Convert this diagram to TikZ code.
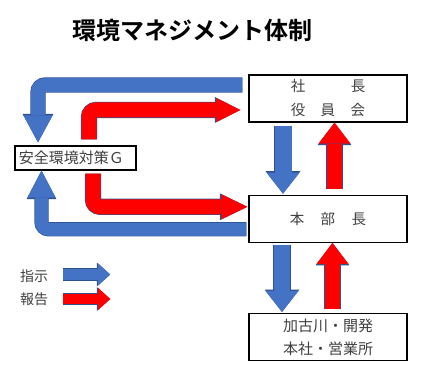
\documentclass[tikz,border=0pt]{standalone}
\usepackage{fontspec}
\setmainfont{Noto Sans CJK JP}[BoldFont={Noto Sans CJK JP Bold}]
\usepackage{xcolor}
\usepackage{tikz}
\usetikzlibrary{arrows.meta,positioning}

\definecolor{instrblue}{HTML}{4472C4}
\definecolor{edgeblue}{HTML}{2F528F}
\definecolor{reportred}{HTML}{FF0000}

% block arrow: colour, shaft, head width, head length, path
\newcommand{\blockarrow}[5]{%
  \pgfmathsetmacro{\ow}{#2+1.2}%
  \pgfmathsetmacro{\ohw}{#3+1.8}%
  \pgfmathsetmacro{\ohl}{#4+1.4}%
  \draw[edgeblue, line width=\ow pt, rounded corners=7pt,
    -{Triangle[width=\ohw pt, length=\ohl pt, line width=0pt]}] #5;
  \draw[#1, line width=#2pt, rounded corners=7pt,
    -{Triangle[width=#3pt, length=#4pt, line width=0pt]}] #5;
}

\tikzset{
  box/.style={draw=black, line width=1.3pt, fill=white, text=black!75,
    minimum width=158pt, minimum height=47pt, inner sep=0pt, align=center,
    font=\fontsize{14.5}{24}\selectfont},
  legend/.style={inner sep=0pt, text=black!75, font=\fontsize{14}{16}\selectfont},
  heading/.style={inner sep=0pt, font=\fontsize{24}{28}\selectfont\bfseries}
}

\begin{document}
\begin{tikzpicture}[x=1pt, y=1pt]
\fill[white] (0,0) rectangle (426,371);
\useasboundingbox (0,0) rectangle (426,371);
\node[heading] (title) at (192.5,341) {環境マネジメント体制};
\node[box] (board) at (328,272.5) {社\hspace{45.5pt}長\\役\hspace{15.5pt}員\hspace{15.5pt}会};
\node[box, minimum width=121pt, minimum height=24pt, text width=113pt, align=left,
  font=\fontsize{15}{18}\selectfont] (safety) at (75.5,213) {安全環境対策Ｇ};
\node[box, below=72pt of board] (hq) {本\hspace{16.5pt}部\hspace{16.5pt}長};
\node[box, below=70pt of hq, font=\fontsize{15}{23}\selectfont] (site) {加古川・開発\\本社・営業所};
% instructions
\blockarrow{instrblue}{14}{29}{27}{([xshift=-6pt,yshift=13.5pt]board.west) -| ([xshift=-37.5pt,yshift=3pt]safety.north)}
\blockarrow{instrblue}{13}{28}{27}{([xshift=-2pt,yshift=-10.5pt]hq.west) -| ([xshift=-34pt]safety.south)}
\blockarrow{instrblue}{17}{33}{21}{([xshift=-45pt,yshift=-3pt]board.south) -- ([xshift=-45pt,yshift=1pt]hq.north)}
\blockarrow{instrblue}{16}{33}{21}{([xshift=-46pt,yshift=-2pt]hq.south) -- ([xshift=-46pt,yshift=1pt]site.north)}
% reports
\blockarrow{reportred}{15}{24}{24}{([xshift=13.5pt,yshift=6pt]safety.north) |- ([xshift=-8pt,yshift=-11.5pt]board.west)}
\blockarrow{reportred}{15}{25}{26}{([xshift=17.5pt,yshift=-3pt]safety.south) |- ([xshift=-1pt,yshift=12pt]hq.west)}
\blockarrow{reportred}{15}{32}{21}{([xshift=6.5pt,yshift=6pt]hq.north) -- ([xshift=6.5pt]board.south)}
\blockarrow{reportred}{15}{32}{21}{([xshift=4.5pt,yshift=4pt]site.north) -- ([xshift=4.5pt]hq.south)}
% legend
\node[legend] (lgi) at (34,95) {指示};
\node[legend] (lgr) at (34,72) {報告};
\blockarrow{instrblue}{11}{22}{12}{([xshift=15pt,yshift=1.5pt]lgi.east) -- ([xshift=62pt,yshift=1.5pt]lgi.east)}
\blockarrow{reportred}{10}{22}{12}{([xshift=15pt]lgr.east) -- ([xshift=62pt]lgr.east)}
\end{tikzpicture}
\end{document}
